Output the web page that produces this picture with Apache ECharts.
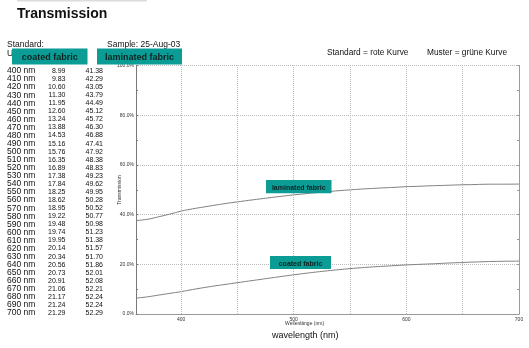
<!DOCTYPE html>
<html>
<head>
<meta charset="utf-8">
<script src="https://cdn.jsdelivr.net/npm/echarts@6/dist/echarts.min.js"></script>
<style>
html,body{margin:0;padding:0;background:#fff;}
#chart{width:529px;height:348px;}
</style>
</head>
<body>
<div id="chart"></div>
<script>
// ---- data ----
const tableNm = [400,410,420,430,440,450,460,470,480,490,500,510,520,530,540,550,560,570,580,590,600,610,620,630,640,650,660,670,680,690,700];
const coatedTable = [8.99,9.83,10.60,11.30,11.95,12.60,13.24,13.88,14.53,15.16,15.76,16.35,16.89,17.38,17.84,18.25,18.62,18.95,19.22,19.48,19.74,19.95,20.14,20.34,20.56,20.73,20.91,21.06,21.17,21.24,21.29];
const laminatedTable = [41.38,42.29,43.05,43.79,44.49,45.12,45.72,46.30,46.88,47.41,47.92,48.38,48.83,49.23,49.62,49.95,50.28,50.52,50.77,50.98,51.23,51.38,51.57,51.70,51.86,52.01,52.08,52.21,52.24,52.24,52.29];
// curve part left of 400 nm
const extNm = [360,370,380,390];
const coatedExt = [6.4,6.9,7.6,8.3];
const laminatedExt = [37.6,38.1,39.1,40.2];
const xGridLines = [400,450,500,550,600,650];
const yTickLabelsSuffix = '%';

const curveNm = extNm.concat(tableNm);
const coatedCurve = coatedExt.concat(coatedTable);
const laminatedCurve = laminatedExt.concat(laminatedTable);

const chart = echarts.init(document.getElementById('chart'), null, {renderer:'canvas'});
const FONT = 'Liberation Sans, Arial, sans-serif';

const graphics = [];
// top grey strip
graphics.push({type:'rect', shape:{x:17,y:0,width:130,height:1.5}, style:{fill:'#dcdcdc'}});
graphics.push({type:'text', left:17, top:7, style:{text:'Transmission', font:'bold 14px '+FONT, fill:'#111'}});
graphics.push({type:'text', x:7, y:44.7, style:{text:'Standard:', font:'8.5px '+FONT, fill:'#111', verticalAlign:'middle'}});
graphics.push({type:'text', x:7, y:53.5, style:{text:'U', font:'8.5px '+FONT, fill:'#111', verticalAlign:'middle'}});
graphics.push({type:'text', x:107, y:44.7, style:{text:'Sample: 25-Aug-03', font:'8.5px '+FONT, fill:'#111', verticalAlign:'middle'}});
graphics.push({type:'text', x:327, y:52.7, style:{text:'Standard = rote Kurve', font:'8.3px '+FONT, fill:'#111', verticalAlign:'middle'}});
graphics.push({type:'text', x:427, y:52.7, style:{text:'Muster = grüne Kurve', font:'8.3px '+FONT, fill:'#111', verticalAlign:'middle'}});

function box(x,y,w,h,text,fs){
  graphics.push({type:'rect', shape:{x:x,y:y,width:w,height:h}, style:{fill:'#0a9c95'}, z:10});
  graphics.push({type:'text', x:x+w/2, y:y+h/2+1.5, style:{text:text, font:'bold '+fs+'px '+FONT, fill:'#0d2422', align:'center', verticalAlign:'middle'}, z:11});
}
box(12,48.5,75.5,16,'coated fabric',9);
box(97,48.5,85,16,'laminated fabric',9);
box(266,180,65.5,13.3,'laminated fabric',7);
box(270,256,61,13,'coated fabric',7);

// table
tableNm.forEach((nm,i)=>{
  const y = 71 + i*8.07;
  graphics.push({type:'text', x:7, y:y, style:{text:nm+' nm', font:'8.5px '+FONT, fill:'#111', verticalAlign:'middle'}});
  graphics.push({type:'text', x:65.5, y:y, style:{text:coatedTable[i].toFixed(2), font:'7px '+FONT, fill:'#111', align:'right', verticalAlign:'middle'}});
  graphics.push({type:'text', x:103, y:y, style:{text:laminatedTable[i].toFixed(2), font:'7px '+FONT, fill:'#111', align:'right', verticalAlign:'middle'}});
});

graphics.push({type:'text', x:120, y:190, rotation:Math.PI/2, style:{text:'Transmission', font:'5px '+FONT, fill:'#333', align:'center', verticalAlign:'middle'}});
graphics.push({type:'text', x:285, y:324, style:{text:'Wellenlänge (nm)', font:'5px '+FONT, fill:'#333', verticalAlign:'middle'}});
graphics.push({type:'text', x:272, y:335.5, style:{text:'wavelength (nm)', font:'9px '+FONT, fill:'#111', verticalAlign:'middle'}});

const option = {
  animation:false,
  backgroundColor:'#fff',
  grid:{left:136, right:10, top:65.5, bottom:34, containLabel:false},
  xAxis:{
    type:'value', min:360, max:700, interval:10,
    axisLine:{lineStyle:{color:'#9a9a9a', width:1}},
    axisTick:{show:false},
    axisLabel:{fontSize:5, color:'#333', margin:3, fontFamily:FONT,
      formatter:function(v){return v%100===0 ? String(v) : '';}},
    splitLine:{show:false}
  },
  yAxis:[{
    type:'value', min:0, max:100, interval:20, position:'left',
    axisLine:{show:true, lineStyle:{color:'#7a7a7a', width:1}},
    axisTick:{show:true, inside:true, length:2, lineStyle:{color:'#7a7a7a'}},
    minorTick:{show:true, splitNumber:2, length:2, lineStyle:{color:'#7a7a7a'}},
    axisLabel:{fontSize:5, color:'#333', margin:2, fontFamily:FONT,
      formatter:function(v){return v.toFixed(1)+yTickLabelsSuffix;}},
    splitLine:{show:true, lineStyle:{type:'dotted', color:'#bbbbbb', width:1}}
  },{
    type:'value', min:0, max:100, interval:10, position:'right',
    axisLine:{show:true, lineStyle:{color:'#9a9a9a', width:1}},
    axisTick:{show:true, inside:true, length:2, lineStyle:{color:'#9a9a9a'}},
    axisLabel:{show:false},
    splitLine:{show:false}
  }],
  series:[{
    name:'laminated fabric', type:'line', symbol:'none', smooth:true,
    data: curveNm.map((w,i)=>[w, laminatedCurve[i]]),
    lineStyle:{color:'#808080', width:1},
    markLine:{silent:true, symbol:'none', label:{show:false},
      lineStyle:{type:'dotted', color:'#bbbbbb', width:1},
      data: xGridLines.map(x=>({xAxis:x}))}
  },{
    name:'coated fabric', type:'line', symbol:'none', smooth:true,
    data: curveNm.map((w,i)=>[w, coatedCurve[i]]),
    lineStyle:{color:'#808080', width:1}
  }],
  graphic: graphics
};
chart.setOption(option);
</script>
</body>
</html>
